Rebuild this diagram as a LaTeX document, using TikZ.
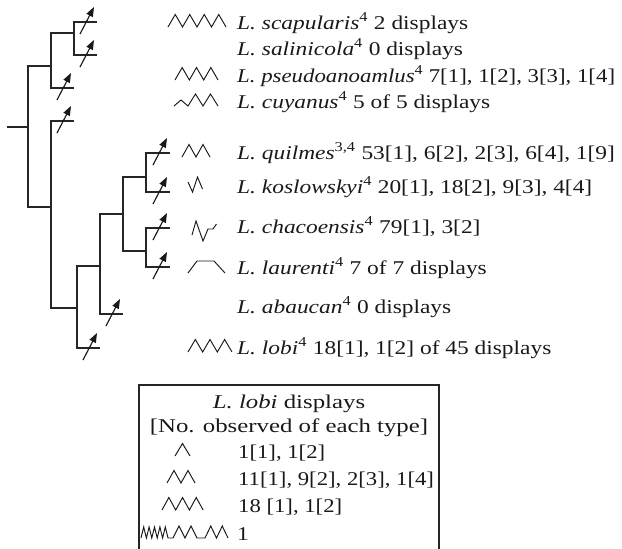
\documentclass[tikz,border=0pt]{standalone}
\usepackage{fontspec}
\usepackage{graphicx}
\setmainfont{Liberation Serif}[FakeStretch=1.2]
\usetikzlibrary{arrows.meta}
\newcommand\fs{\fontsize{19.5}{23}\selectfont}
\newcommand\myzig[5]{\draw[icon] (#1,#2) \foreach \k in {1,...,#3}{ -- ++(#4,-#5) -- ++(#4,#5)};}
\newcommand\nar[1]{\scalebox{0.97}[1]{#1}}
\tikzset{
  br/.style={line width=1.15pt, draw=black!85},
  mut/.style={line width=1.15pt, draw=black!90, -{Triangle[length=9.5pt,width=7pt]}},
  icon/.style={line width=0.95pt, draw=black!90, line join=miter},
  lab/.style={anchor=base west, inner sep=0pt, font=\fs, text=black!90},
  ctr/.style={anchor=base, inner sep=0pt, font=\fs, text=black!90},
}
\begin{document}
\begin{tikzpicture}[x=1pt,y=-1pt]
\useasboundingbox (0,0) rectangle (622,549);
% ---- tree coordinates
\coordinate (r0) at (7,127);
\coordinate (R) at (28,127);
\coordinate (A) at (51,66);
\coordinate (A1) at (74,33);
\coordinate (l1) at (97,22);
\coordinate (l2) at (97,55);
\coordinate (l3) at (74,88);
\coordinate (B) at (51,207);
\coordinate (l4) at (74,121);
\coordinate (C) at (77,308);
\coordinate (D) at (100,266);
\coordinate (E) at (123,214);
\coordinate (F) at (146,177);
\coordinate (G) at (146,251);
\coordinate (l5) at (170,153);
\coordinate (l6) at (170,192);
\coordinate (l7) at (170,228);
\coordinate (l8) at (170,267);
\coordinate (l9) at (123,314);
\coordinate (l10) at (100,348);
% ---- branches
\draw[br] (r0) -- (R);
\draw[br] (R) |- (A);
\draw[br] (R) |- (B);
\draw[br] (A) |- (A1);
\draw[br] (A1) |- (l1);
\draw[br] (A1) |- (l2);
\draw[br] (A) |- (l3);
\draw[br] (B) |- (l4);
\draw[br] (B) |- (C);
\draw[br] (C) |- (D);
\draw[br] (C) |- (l10);
\draw[br] (D) |- (E);
\draw[br] (D) |- (l9);
\draw[br] (E) |- (F);
\draw[br] (E) |- (G);
\draw[br] (F) |- (l5);
\draw[br] (F) |- (l6);
\draw[br] (G) |- (l7);
\draw[br] (G) |- (l8);
% ---- arrows across leaves
\foreach \n in {l1,l2,l3,l4,l5,l6,l7,l8,l9,l10}
  \draw[mut] ([shift={(-17,12)}]\n) -- ([shift={(-3,-15)}]\n);
% ---- species labels
\node[lab] (t1) at (237,29) {\textit{L. scapularis}\textsuperscript{4} 2 displays};
\node[lab] (t2) at (237,55) {\textit{L. salinicola}\textsuperscript{4} 0 displays};
\node[lab] (t3) at (237,82) {\scalebox{0.975}[1]{\textit{L. pseudoanoamlus}\textsuperscript{4} 7[1], 1[2], 3[3], 1[4]}};
\node[lab] (t4) at (237,108) {\textit{L. cuyanus}\textsuperscript{4} 5 of 5 displays};
\node[lab] (t5) at (237,159) {\textit{L. quilmes}\textsuperscript{3,4} 53[1], 6[2], 2[3], 6[4], 1[9]};
\node[lab] (t6) at (237,193) {\textit{L. koslowskyi}\textsuperscript{4} 20[1], 18[2], 9[3], 4[4]};
\node[lab] (t7) at (237,233) {\textit{L. chacoensis}\textsuperscript{4} 79[1], 3[2]};
\node[lab] (t8) at (237,274) {\textit{L. laurenti}\textsuperscript{4} 7 of 7 displays};
\node[lab] (t9) at (237,313) {\textit{L. abaucan}\textsuperscript{4} 0 displays};
\node[lab] (t10) at (237,354) {\textit{L. lobi}\textsuperscript{4} 18[1], 1[2] of 45 displays};
% ---- display icons
\myzig{168}{27}{4}{7.25}{12.5}
\myzig{175}{80}{3}{7.17}{12.5}
\draw[icon] (174,106) -- (181,100) -- (188,106) -- (195.5,94) -- (203,106) -- (210.5,94) -- (218,106);
\myzig{182}{157}{2}{7}{12.5}
\draw[icon] (188,182) -- (192.5,192) -- (197.5,177) -- (202.5,189);
\draw[icon] (192,235) -- (196,221) -- (203,241) -- (208,229) -- (213,229) -- (216.5,224);
\draw[icon] (188,273) -- (197,261) -- (214,261) -- (225,273);
\myzig{188}{352}{3}{7.33}{12.5}
% ---- legend box
\draw[br] (139,549) -- (139,385) -- (439,385) -- (439,549);
\node[ctr] (h1) at (289,408) {\scalebox{1.06}[1]{\textit{L. lobi} displays}};
\node[ctr] (h2) at (289,432) {\scalebox{1.06}[1]{[No. observed of each type]}};
\node[lab] (c1) at (238,458) {\nar{1[1], 1[2]}};
\node[lab] (c2) at (238,485) {\nar{11[1], 9[2], 2[3], 1[4]}};
\node[lab] (c3) at (238,512) {\nar{18 [1], 1[2]}};
\node[lab] (c4) at (237,540) {1};
\myzig{175}{456}{1}{7.5}{12.5}
\myzig{167}{483}{2}{7}{12.5}
\myzig{162}{510}{3}{6.85}{12.5}
\draw[icon] (141,538) \foreach \k in {1,...,5}{ -- ++(2.7,-11) -- ++(2.7,11)}
  -- ++(5,0) \foreach \k in {1,2}{ -- ++(6,-12) -- ++(6,12)}
  -- ++(8,0) \foreach \k in {1,2}{ -- ++(5.75,-12) -- ++(5.75,12)};
\end{tikzpicture}
\end{document}
